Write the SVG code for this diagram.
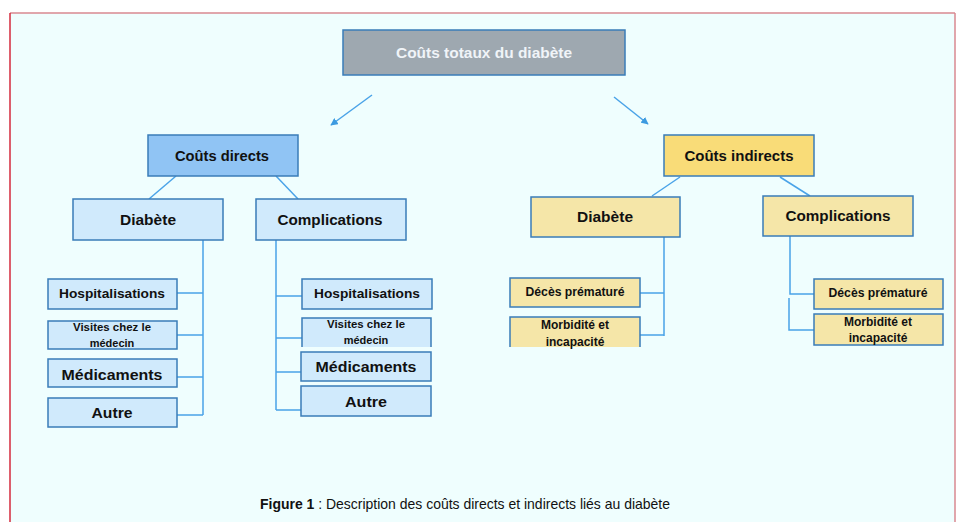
<svg xmlns="http://www.w3.org/2000/svg" width="960" height="522" viewBox="0 0 960 522">
<defs>
<marker id="ah" viewBox="0 0 10 10" refX="9" refY="5" markerWidth="5" markerHeight="5" orient="auto" markerUnits="strokeWidth">
<path d="M0,0 L10,5 L0,10 z" fill="#3d9be0"/>
</marker>
<style>
.t{font-family:"Liberation Sans",Arial,sans-serif;font-weight:bold;fill:#111;text-anchor:middle}
.bx{stroke:#3a7cb8;stroke-width:1.5}
.blue{fill:#90c4f4}
.lblue{fill:#d0eafc}
.gold{fill:#f9dc78}
.lgold{fill:#f5e6a8}
.c{stroke:#4aa3e8;stroke-width:1.5;fill:none}
</style>
</defs>
<rect x="0" y="0" width="960" height="522" fill="#ffffff"/>
<rect x="10" y="13" width="945" height="520" fill="#effefe"/>
<line x1="10" y1="13" x2="955" y2="13" stroke="#d98890" stroke-width="1.5"/>
<line x1="955" y1="13" x2="955" y2="522" stroke="#d98890" stroke-width="1.5"/>
<line x1="10" y1="13" x2="10" y2="522" stroke="#d42a3c" stroke-width="1.5"/>

<g id="connectors">
<line class="c" x1="372" y1="95" x2="331" y2="125" marker-end="url(#ah)"/>
<line class="c" x1="614" y1="97" x2="648" y2="124" marker-end="url(#ah)"/>
<line class="c" stroke-width="1" x1="176" y1="176" x2="149" y2="199"/>
<line class="c" stroke-width="1" x1="276" y1="176" x2="298" y2="199"/>
<line class="c" stroke-width="1" x1="680" y1="177" x2="652" y2="196"/>
<line class="c" stroke-width="1" x1="780" y1="177" x2="810" y2="196"/>
<path class="c" d="M203,240 V415 M177,293 H203 M177,335 H203 M177,377 H203 M177,415 H203"/>
<path class="c" d="M276,240 V410 M276,296 H302 M276,338 H302 M276,372 H301 M276,410 H301"/>
<path class="c" d="M664,237 V336 M640,293 H664 M640,335 H664"/>
<path class="c" d="M790,236 V294 H814 M789,298 V330 H814"/>
</g>

<g id="total">
<rect x="343" y="30" width="282" height="45" fill="#9ea8b0" class="bx"/>
<text x="484" y="58" class="t" style="fill:#f0f4f8" font-size="15" textLength="176" lengthAdjust="spacingAndGlyphs">Coûts totaux du diabète</text>
</g>

<g id="directs">
<rect x="148" y="135" width="150" height="41" class="bx blue"/>
<text x="222" y="161" class="t" font-size="15" textLength="94" lengthAdjust="spacingAndGlyphs">Coûts directs</text>
</g>
<g id="d-diabete">
<rect x="73" y="199" width="150" height="41" class="bx lblue"/>
<text x="148" y="225" class="t" font-size="15" textLength="56" lengthAdjust="spacingAndGlyphs">Diabète</text>
</g>
<g id="d-complications">
<rect x="256" y="199" width="150" height="41" class="bx lblue"/>
<text x="330" y="225" class="t" font-size="15" textLength="105" lengthAdjust="spacingAndGlyphs">Complications</text>
</g>

<g id="d1-hosp">
<rect x="48" y="279" width="129" height="30" class="bx lblue"/>
<text x="112" y="298" class="t" font-size="13" textLength="106" lengthAdjust="spacingAndGlyphs">Hospitalisations</text>
</g>
<g id="d1-visites">
<rect x="48" y="321" width="129" height="28" class="bx lblue"/>
<text x="112" y="331" class="t" font-size="11" textLength="78" lengthAdjust="spacingAndGlyphs">Visites chez le</text>
<text x="112" y="347" class="t" font-size="11">médecin</text>
</g>
<g id="d1-medic">
<rect x="48" y="359" width="129" height="28" class="bx lblue"/>
<text x="112" y="380" class="t" font-size="15" textLength="101" lengthAdjust="spacingAndGlyphs">Médicaments</text>
</g>
<g id="d1-autre">
<rect x="48" y="398" width="129" height="29" class="bx lblue"/>
<text x="112" y="418" class="t" font-size="14" textLength="41" lengthAdjust="spacingAndGlyphs">Autre</text>
</g>

<g id="d2-hosp">
<rect x="302" y="279" width="130" height="30" class="bx lblue"/>
<text x="367" y="298" class="t" font-size="13" textLength="106" lengthAdjust="spacingAndGlyphs">Hospitalisations</text>
</g>
<g id="d2-visites">
<rect x="302" y="318" width="129" height="29" class="lblue"/>
<path d="M302,347 V318 H431 V347" fill="none" class="bx"/>
<text x="366" y="328" class="t" font-size="11" textLength="78" lengthAdjust="spacingAndGlyphs">Visites chez le</text>
<text x="366" y="344" class="t" font-size="11">médecin</text>
</g>
<g id="d2-medic">
<rect x="301" y="352" width="130" height="29" class="bx lblue"/>
<text x="366" y="372" class="t" font-size="15" textLength="101" lengthAdjust="spacingAndGlyphs">Médicaments</text>
</g>
<g id="d2-autre">
<rect x="301" y="386" width="130" height="30" class="bx lblue"/>
<text x="366" y="407" class="t" font-size="15" textLength="42" lengthAdjust="spacingAndGlyphs">Autre</text>
</g>

<g id="indirects">
<rect x="664" y="135" width="150" height="41" class="bx gold"/>
<text x="739" y="161" class="t" font-size="15" textLength="109" lengthAdjust="spacingAndGlyphs">Coûts indirects</text>
</g>
<g id="i-diabete">
<rect x="531" y="197" width="149" height="40" class="bx lgold"/>
<text x="605" y="222" class="t" font-size="15" textLength="56" lengthAdjust="spacingAndGlyphs">Diabète</text>
</g>
<g id="i-complications">
<rect x="763" y="196" width="150" height="40" class="bx lgold"/>
<text x="838" y="221" class="t" font-size="15" textLength="105" lengthAdjust="spacingAndGlyphs">Complications</text>
</g>

<g id="i1-deces">
<rect x="510" y="278" width="130" height="29" class="bx lgold"/>
<text x="575" y="296" class="t" font-size="12" textLength="99" lengthAdjust="spacingAndGlyphs">Décès prématuré</text>
</g>
<g id="i1-morbidite">
<rect x="510" y="317" width="130" height="30" class="lgold"/>
<path d="M510,347 V317 H640 V347" fill="none" class="bx"/>
<text x="575" y="329" class="t" font-size="12">Morbidité et</text>
<text x="575" y="346" class="t" font-size="12">incapacité</text>
</g>
<g id="i2-deces">
<rect x="814" y="279" width="129" height="30" class="bx lgold"/>
<text x="878" y="297" class="t" font-size="12" textLength="99" lengthAdjust="spacingAndGlyphs">Décès prématuré</text>
</g>
<g id="i2-morbidite">
<rect x="814" y="314" width="129" height="31" class="bx lgold"/>
<text x="878" y="326" class="t" font-size="12">Morbidité et</text>
<text x="878" y="342" class="t" font-size="12">incapacité</text>
</g>

<text x="260" y="509" font-family="'Liberation Sans',Arial,sans-serif" font-size="15" fill="#111" textLength="410" lengthAdjust="spacingAndGlyphs"><tspan font-weight="bold">Figure 1</tspan> : Description des coûts directs et indirects liés au diabète</text>
</svg>
